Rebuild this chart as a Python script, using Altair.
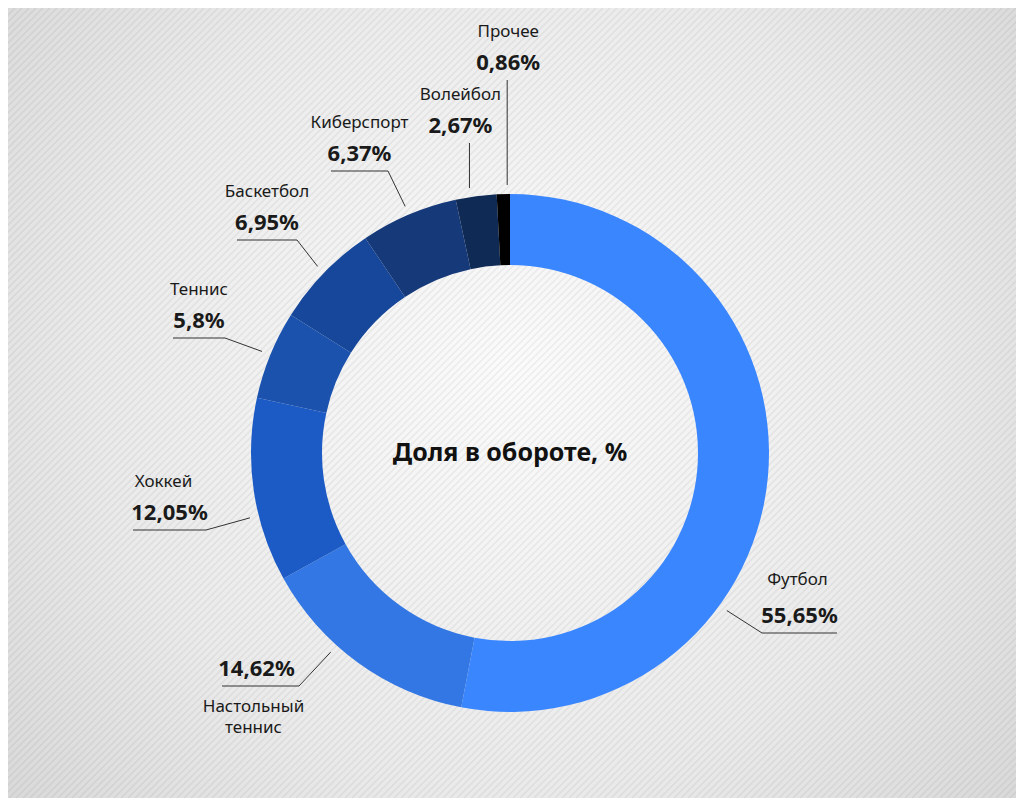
import altair as alt
import pandas as pd
import numpy as np

# ---- data ----
categories = ["Футбол", "Настольный теннис", "Хоккей", "Теннис",
              "Баскетбол", "Киберспорт", "Волейбол", "Прочее"]
shares = [55.65, 14.62, 12.05, 5.8, 6.95, 6.37, 2.67, 0.86]
share_labels = ["55,65%", "14,62%", "12,05%", "5,8%", "6,95%", "6,37%", "2,67%", "0,86%"]
name_labels = ["Футбол", "Настольный\nтеннис", "Хоккей", "Теннис",
               "Баскетбол", "Киберспорт", "Волейбол", "Прочее"]
colors = ["#3a86ff", "#3277e3", "#1c5bc6", "#1b52ae",
          "#17479a", "#16397a", "#0f2a55", "#000000"]
center_title = "Доля в обороте, %"

# ---- layout (pixels relative to donut centre, y up) ----
W, H = 1008, 790
CX, CY = 502, 445
R_OUT, R_IN = 259, 188
R_LEAD = 268
elbow_x = [252, -211, -304, -285, -213, -122, None, None]
elbow_y = [-180, -233, -77, 115, 213, 282, 310, 373]
end_x = [327, -288, -377, -337, -273, -179, None, None]
anchor_override = {0: 126, 1: 222, 2: 256, 6: 351.3, 7: 359.4}
text_dx_vertical = {6: -9, 7: 1}
name_dx = {0: -2, 2: -6}
name_below = {1}
FONT = "Noto Sans"
INK = "#1a1a1a"

xs = alt.Scale(domain=[-CX, W - CX], nice=False, zero=False)
ys = alt.Scale(domain=[-(H - CY), CY], nice=False, zero=False)

# ---- derived geometry ----
total = sum(shares)
cum = np.concatenate([[0], np.cumsum(shares)[:-1]])
mid_deg = [(c + s / 2) / total * 360 for c, s in zip(cum, shares)]

line_rows, pct_rows, name_rows = [], [], []
for i, cat in enumerate(categories):
    a = np.radians(anchor_override.get(i, mid_deg[i]))
    sx, sy = float(R_LEAD * np.sin(a)), float(R_LEAD * np.cos(a))
    ex = elbow_x[i] if elbow_x[i] is not None else sx
    ey = elbow_y[i]
    line_rows.append({"cat": cat, "o": 0, "x": sx, "y": sy})
    line_rows.append({"cat": cat, "o": 1, "x": ex, "y": ey})
    if end_x[i] is not None:
        line_rows.append({"cat": cat, "o": 2, "x": end_x[i], "y": ey})
        tx = (ex + end_x[i]) / 2
    else:
        tx = ex + text_dx_vertical.get(i, 0)
    pct_rows.append({"t": share_labels[i], "x": tx - (4 if i in name_below else 0), "y": ey + 17})
    if i in name_below:
        name_rows.append({"t": name_labels[i], "x": tx - 7, "y": ey - 21})
    else:
        name_rows.append({"t": name_labels[i], "x": tx + name_dx.get(i, 0),
                          "y": ey + 17 + (36 if i == 0 else 31)})

lines_df = pd.DataFrame(line_rows)
pct_df = pd.DataFrame(pct_rows)
name_df = pd.DataFrame(name_rows)
pie_df = pd.DataFrame({"cat": categories, "share": shares, "idx": list(range(len(categories)))})

# background texture (decoration only)
step = 7
x0 = np.arange(-CX - H, W - CX + step, step).astype(float)
stripes_df = pd.DataFrame({"x": x0, "y": float(-(H - CY)), "x2": x0 + H, "y2": float(CY)})

bg = alt.Chart(pd.DataFrame({"a": [0]})).mark_rect(
    color=alt.RadialGradient(
        gradient="radial", x1=0.5, y1=0.47, r1=0, x2=0.5, y2=0.47, r2=0.75,
        stops=[alt.GradientStop(color="#fbfbfb", offset=0),
               alt.GradientStop(color="#eaeaea", offset=0.55),
               alt.GradientStop(color="#d2d2d2", offset=1)])
).encode(x=alt.value(0), x2=alt.value(W), y=alt.value(0), y2=alt.value(H))

stripes = alt.Chart(stripes_df).mark_rule(
    color="#000000", opacity=0.055, strokeWidth=1.5, clip=True
).encode(x=alt.X("x:Q", scale=xs, axis=None), x2="x2:Q",
         y=alt.Y("y:Q", scale=ys, axis=None), y2="y2:Q")

donut = alt.Chart(pie_df).mark_arc(
    outerRadius=R_OUT, innerRadius=R_IN, strokeWidth=0
).encode(
    theta=alt.Theta("share:Q", stack=True),
    order=alt.Order("idx:Q", sort="ascending"),
    color=alt.Color("cat:N", scale=alt.Scale(domain=categories, range=colors), legend=None),
    x=alt.value(CX),
    y=alt.value(CY),
)

leaders = alt.Chart(lines_df).mark_line(color="#333333", strokeWidth=1).encode(
    x=alt.X("x:Q", scale=xs, axis=None),
    y=alt.Y("y:Q", scale=ys, axis=None),
    detail="cat:N",
    order="o:Q",
)

pct_text = alt.Chart(pct_df).mark_text(
    font=FONT, fontSize=22, fontWeight="bold", color=INK, align="center", baseline="middle"
).encode(x=alt.X("x:Q", scale=xs, axis=None), y=alt.Y("y:Q", scale=ys, axis=None), text="t:N")

name_text = alt.Chart(name_df).mark_text(
    font=FONT, fontSize=17, color=INK, align="center", baseline="middle",
    lineBreak="\n", lineHeight=21
).encode(x=alt.X("x:Q", scale=xs, axis=None), y=alt.Y("y:Q", scale=ys, axis=None), text="t:N")

title_text = alt.Chart(pd.DataFrame({"t": [center_title]})).mark_text(
    font=FONT, fontSize=25, fontWeight="bold", color="#111111", align="center", baseline="middle"
).encode(x=alt.value(CX), y=alt.value(CY), text="t:N")

chart = alt.layer(bg, stripes, donut, leaders, pct_text, name_text, title_text).properties(
    width=W, height=H, padding=0,
    autosize=alt.AutoSizeParams(type="fit", contains="padding"),
    background="#d8d8d8",
).configure_view(stroke=None)

chart.save("out.html", embed_options={"renderer": "svg", "actions": False})
